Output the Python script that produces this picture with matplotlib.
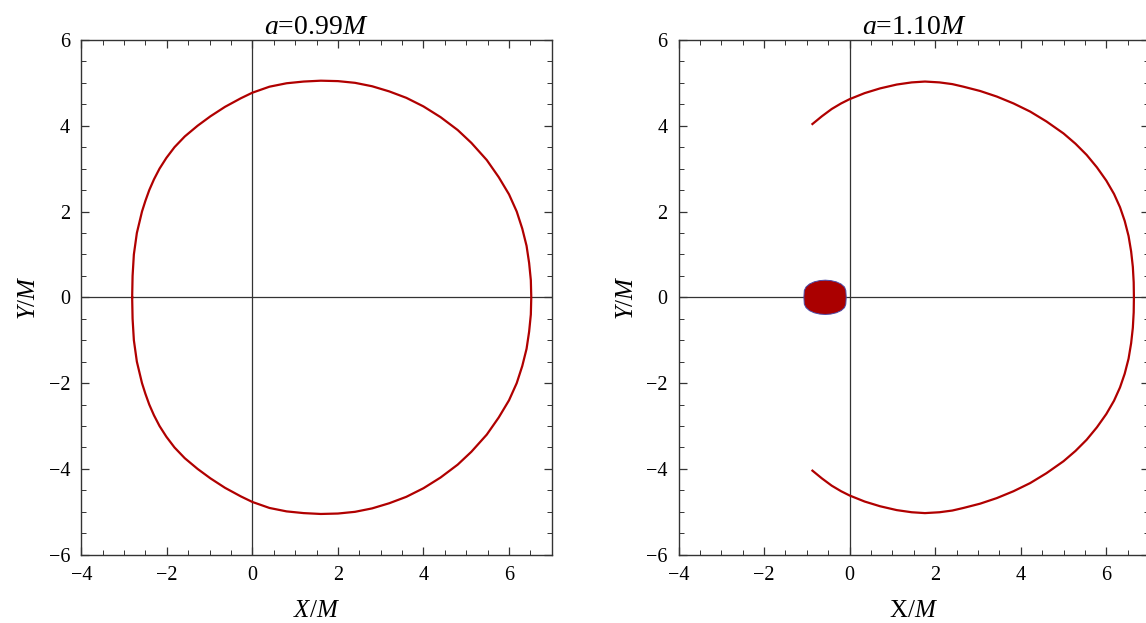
import numpy as np
import matplotlib
matplotlib.use('Agg')
import matplotlib.pyplot as plt
from matplotlib.ticker import MultipleLocator

plt.rcParams['font.family'] = ['Liberation Serif', 'DejaVu Serif']
plt.rcParams['mathtext.fontset'] = 'custom'
plt.rcParams['mathtext.rm'] = 'Liberation Serif'
plt.rcParams['mathtext.it'] = 'Liberation Serif:italic'

# upper half of the a=0.99M shadow edge (mirrored for the lower half)
shadow_x = [-2.81, -2.80, -2.77, -2.70, -2.58, -2.50, -2.41, -2.30, -2.17, -2.01,
            -1.82, -1.58, -1.28, -0.98, -0.64, -0.27, 0.00, 0.40, 0.80, 1.20,
            1.60, 2.00, 2.40, 2.80, 3.20, 3.60, 4.00, 4.40, 4.80, 5.12,
            5.48, 5.76, 6.00, 6.18, 6.31, 6.41, 6.47, 6.51, 6.52]
shadow_y = [0.00, 0.50, 1.00, 1.50, 2.00, 2.25, 2.50, 2.75, 3.00, 3.25,
            3.50, 3.75, 4.00, 4.22, 4.44, 4.64, 4.77, 4.91, 4.99, 5.03,
            5.05, 5.04, 5.00, 4.92, 4.80, 4.65, 4.45, 4.20, 3.90, 3.60,
            3.20, 2.80, 2.40, 2.00, 1.60, 1.20, 0.80, 0.40, 0.00]

# upper half of the a=1.10M arc (mirrored for the lower half)
arc_x = [-0.87, -0.65, -0.42, -0.20, 0.00, 0.35, 0.71, 1.10, 1.45, 1.76,
         2.10, 2.40, 2.66, 3.05, 3.44, 3.83, 4.22, 4.60, 5.00, 5.28,
         5.54, 5.78, 6.00, 6.18, 6.32, 6.43, 6.52, 6.58, 6.62, 6.64, 6.645]
arc_y = [4.04, 4.22, 4.39, 4.52, 4.62, 4.76, 4.87, 4.96, 5.01, 5.03,
         5.01, 4.97, 4.91, 4.81, 4.68, 4.52, 4.33, 4.10, 3.82, 3.58,
         3.32, 3.03, 2.72, 2.41, 2.10, 1.78, 1.43, 1.07, 0.71, 0.35, 0.00]

# upper half of the central dark spot for a=1.10M
spot_x = [-1.07, -1.06, -1.02, -0.94, -0.83, -0.70, -0.57, -0.44, -0.31, -0.20, -0.12, -0.09, -0.08]
spot_y = [0.00, 0.16, 0.24, 0.31, 0.36, 0.39, 0.40, 0.39, 0.36, 0.31, 0.24, 0.16, 0.00]

titles = [r'$a$=0.99$M$', r'$a$=1.10$M$']
xlabels = [r'$X/M$', r'X/$M$']

red = '#b00000'


def closed(xs, ys):
    # go along the upper half, then back along the mirrored lower half
    x = list(xs) + list(xs[::-1])
    y = list(ys) + [-v for v in ys[::-1]]
    return x, y


def style_axes(ax, title, xlabel):
    ax.set_xlim(-4, 7)
    ax.set_ylim(-6, 6)
    ax.axhline(0, color='#333333', lw=0.9, zorder=1)
    ax.axvline(0, color='#333333', lw=0.9, zorder=1)
    ax.set_xticks([-4, -2, 0, 2, 4, 6])
    ax.set_yticks([-6, -4, -2, 0, 2, 4, 6])
    ax.xaxis.set_minor_locator(MultipleLocator(0.5))
    ax.yaxis.set_minor_locator(MultipleLocator(0.5))
    ax.tick_params(which='both', direction='in', top=True, right=True,
                   labelsize=14.5, color='#333333')
    ax.tick_params(which='major', length=6, width=0.9, pad=8)
    ax.tick_params(which='minor', length=3.5, width=0.7)
    for s in ax.spines.values():
        s.set_color('#333333')
        s.set_linewidth(1.0)
    ax.set_title(title, fontsize=20, pad=4)
    ax.set_xlabel(xlabel, fontsize=18, labelpad=11)
    ax.set_ylabel(r'$Y/M$', fontsize=18, labelpad=6)


fig = plt.figure(figsize=(11.46, 6.23), dpi=100)
ax1 = fig.add_axes([0.0709, 0.1096, 0.4106, 0.8263])
ax2 = fig.add_axes([0.5921, 0.1096, 0.4106, 0.8263])

x, y = closed(shadow_x, shadow_y)
ax1.plot(x, y, color=red, lw=1.6, zorder=3, solid_joinstyle='round')
style_axes(ax1, titles[0], xlabels[0])

# lower arc from its tip to the right edge, then the upper arc back
ax2.plot(arc_x + arc_x[::-1][1:], [-v for v in arc_y] + arc_y[::-1][1:],
         color=red, lw=1.6, zorder=3, solid_joinstyle='round')
sx, sy = closed(spot_x, spot_y)
ax2.fill(sx, sy, facecolor='#aa0000', edgecolor='#4b4ba8', lw=0.7, zorder=3)
style_axes(ax2, titles[1], xlabels[1])

fig.savefig('out.png', dpi=100)
